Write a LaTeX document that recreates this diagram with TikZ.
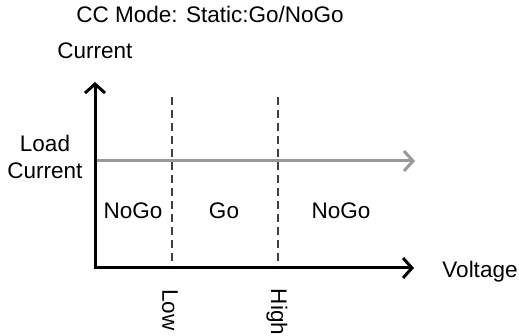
\documentclass[tikz,border=0pt]{standalone}
\usepackage{fontspec}
\setmainfont{Liberation Sans}
\usetikzlibrary{arrows.meta}
\begin{document}
\begin{tikzpicture}[x=1pt,y=-1pt,
  lbl/.style={font=\fontsize{22.5}{27}\selectfont, inner sep=0pt, align=center},
  axis/.style={line width=3pt, -{Straight Barb[length=9pt,width=20pt,line width=3pt]}},
  load/.style={line width=3pt, color=black!40, -{Straight Barb[length=9pt,width=20pt,line width=3pt]}},
  limit/.style={line width=1.3pt, color=black!75, dash pattern=on 8pt off 5pt}]
\useasboundingbox (0,0) rectangle (519,336);
\coordinate (O) at (95,268);
\coordinate (Ytop) at (95,82);
\coordinate (Xend) at (414,268);
\coordinate (Ls) at (95,161);
\coordinate (Le) at (415,161);
\coordinate (lowtop) at (172,97);
\coordinate (lowbot) at (172,268);
\coordinate (hightop) at (278,97);
\coordinate (highbot) at (278,268);
\draw[limit] (lowtop) -- (lowbot);
\draw[limit] (hightop) -- (highbot);
\draw[load] (Ls) -- (Le);
\draw[axis, line cap=rect] (O) -- (Ytop);
\draw[axis, line cap=rect] (O) -- (Xend);
\node[lbl] (title) at (210,14) {CC Mode: Static:Go/NoGo};
\node[lbl] (ylab) at (95,51) {Current};
\node[lbl] (loadlab) at (45,157) {Load\\Current};
\node[lbl] (nogo1) at (133,211) {NoGo};
\node[lbl] (go) at (224,211) {Go};
\node[lbl] (nogo2) at (341,211) {NoGo};
\node[lbl] (xlab) at (480,272) {Voltage};
\node[lbl, rotate=-90] (low) at (170,310) {Low};
\node[lbl, rotate=-90] (high) at (277,312) {High};
\end{tikzpicture}
\end{document}
